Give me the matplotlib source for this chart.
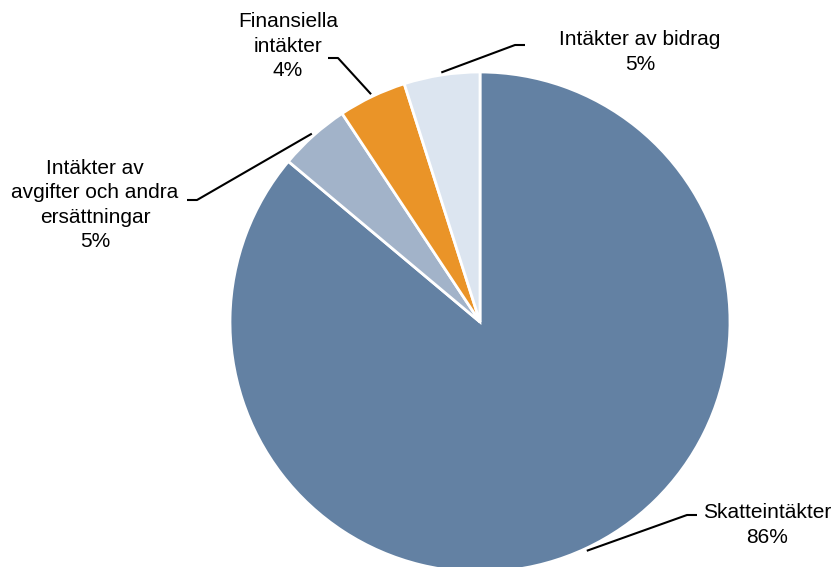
import numpy as np
import matplotlib
matplotlib.use("Agg")
import matplotlib.pyplot as plt

# Revenue shares (percent), clockwise from 12 o'clock
categories = [
    "Skatteintäkter",
    "Intäkter av\navgifter och andra\nersättningar",
    "Finansiella\nintäkter",
    "Intäkter av bidrag",
]
shares = [86.1, 4.6, 4.4, 4.9]
colors = ["#6381A3", "#A2B3C9", "#EA9428", "#DCE5F0"]

W, H = 835, 567
CENTER = (480, H - 322)
RADIUS = 250

# label centre (image px) and elbow of the leader line (image px)
LABEL_POS = [(767, 525), (95, 205), (288, 46), (640, 52)]
ELBOW = [((687, 515), (697, 515)),
         ((197, 200), (187, 200)),
         ((338, 58), (328, 58)),
         ((515, 45), (525, 45))]

plt.rcParams["font.family"] = ["Liberation Sans", "DejaVu Sans"]

fig = plt.figure(figsize=(W / 100, H / 100), dpi=100)
ax = fig.add_axes([0, 0, 1, 1])
wedges, _ = ax.pie(
    shares,
    colors=colors,
    startangle=90,
    counterclock=False,
    center=CENTER,
    radius=RADIUS,
    wedgeprops=dict(edgecolor="white", linewidth=2),
)
ax.set_xlim(0, W)
ax.set_ylim(0, H)
ax.set_aspect("equal")
ax.axis("off")

total = sum(shares)
for w, name, v, (lx, ly), (e1, e2) in zip(wedges, categories, shares, LABEL_POS, ELBOW):
    mid = np.deg2rad((w.theta1 + w.theta2) / 2)
    sx = CENTER[0] + 1.01 * RADIUS * np.cos(mid)
    sy = CENTER[1] + 1.01 * RADIUS * np.sin(mid)
    ax.plot([sx, e1[0], e2[0]], [sy, H - e1[1], H - e2[1]],
            color="black", linewidth=1.5, solid_capstyle="butt")
    ax.text(lx, H - ly, f"{name}\n{round(v / total * 100):.0f}%",
            ha="center", va="center", multialignment="center",
            fontsize=15, linespacing=1.35, color="black")

fig.savefig("out.png", dpi=100)
